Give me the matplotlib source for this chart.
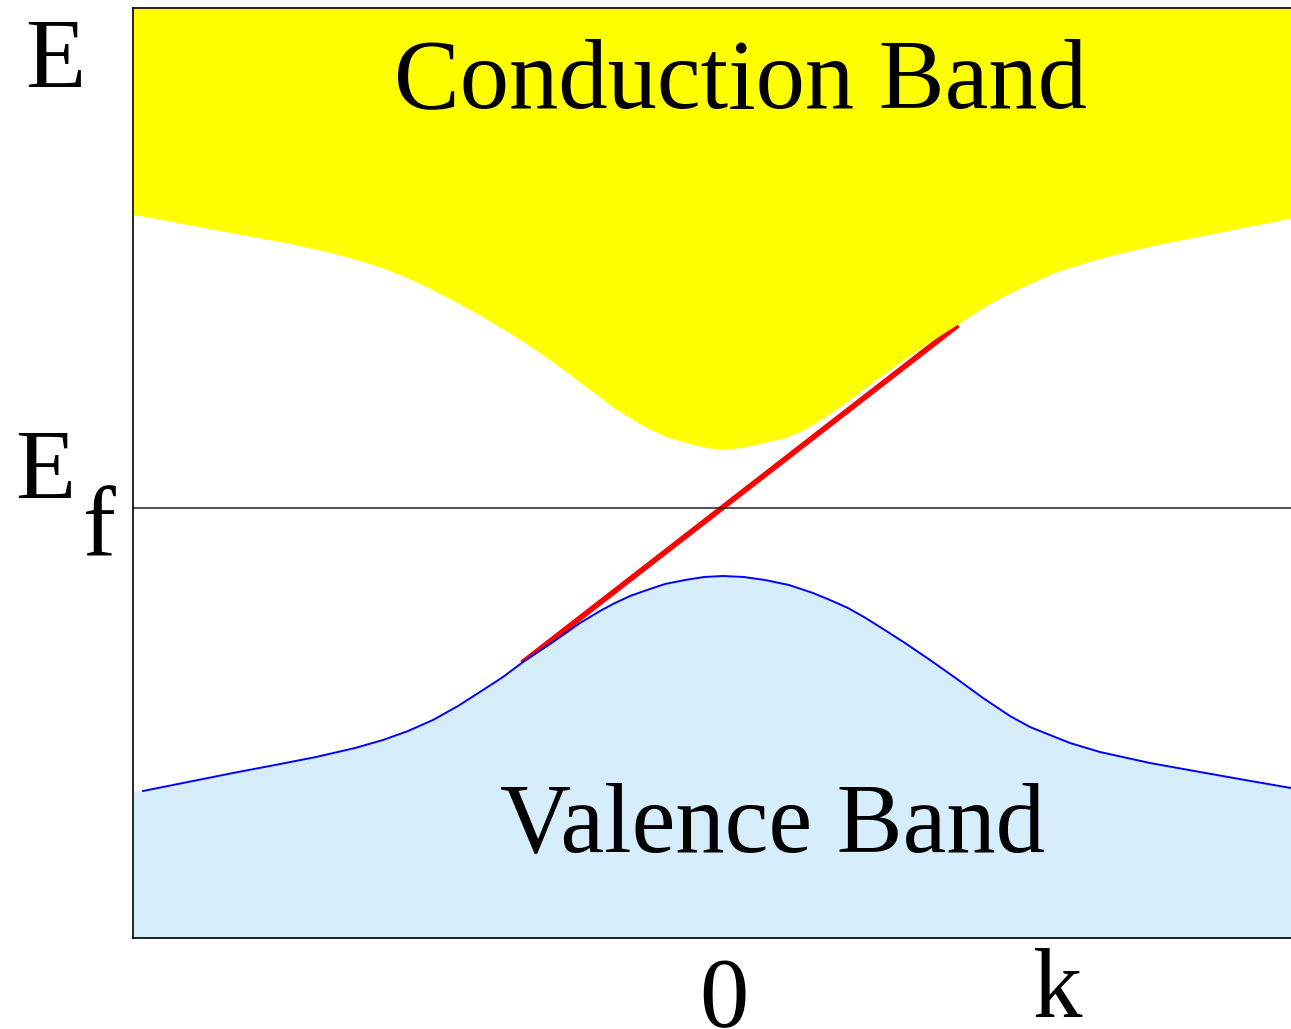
import matplotlib
matplotlib.use("Agg")
import matplotlib.pyplot as plt

# band edges, k in arbitrary units (k=0 at the crossing), energy relative to E_f
cond_k = [-5.89, -5.79, -4.89, -4.39, -3.89, -3.64, -3.39, -3.14, -2.89, -2.64,
          -2.39, -2.14, -1.89, -1.69, -1.49, -1.29, -1.09, -0.95, -0.82, -0.68,
          -0.55, -0.41, -0.27, -0.13, 0.00, 0.15, 0.31, 0.48, 0.65, 0.81,
          0.98, 1.14, 1.31, 1.56, 1.81, 2.06, 2.31, 2.48, 2.65, 2.98,
          3.31, 3.65, 3.98, 4.38, 4.78, 5.23, 5.69]
cond_E = [2.93, 2.92, 2.75, 2.66, 2.55, 2.48, 2.40, 2.30, 2.18, 2.05,
          1.91, 1.76, 1.60, 1.46, 1.31, 1.16, 1.01, 0.92, 0.84, 0.77,
          0.71, 0.67, 0.63, 0.60, 0.59, 0.60, 0.63, 0.67, 0.71, 0.78,
          0.88, 0.99, 1.11, 1.30, 1.48, 1.65, 1.81, 1.92, 2.03, 2.20,
          2.35, 2.46, 2.55, 2.64, 2.72, 2.81, 2.90]

val_k = [-5.79, -5.34, -4.89, -4.47, -4.06, -3.67, -3.39, -3.14, -2.89, -2.64,
         -2.39, -2.19, -1.99, -1.69, -1.42, -1.22, -1.09, -0.92, -0.75, -0.57,
         -0.37, -0.18, 0.01, 0.22, 0.43, 0.67, 0.91, 1.08, 1.26, 1.42,
         1.58, 1.83, 2.08, 2.35, 2.61, 2.88, 3.08, 3.28, 3.48, 3.78,
         4.28, 4.78, 5.23, 5.69]
val_E = [-2.83, -2.74, -2.65, -2.57, -2.49, -2.40, -2.32, -2.23, -2.12, -1.98,
         -1.82, -1.69, -1.54, -1.34, -1.15, -1.03, -0.96, -0.88, -0.82, -0.76,
         -0.72, -0.69, -0.68, -0.69, -0.72, -0.77, -0.85, -0.92, -1.00, -1.09,
         -1.19, -1.35, -1.52, -1.71, -1.90, -2.08, -2.19, -2.27, -2.35, -2.44,
         -2.55, -2.64, -2.72, -2.80]

# linear (Dirac-like) surface state
surf_k = [-2.00, 2.36]
surf_E = [-1.55, 1.83]

E_fermi = 0.0
k_min, k_max = -5.89, 5.69
E_min, E_max = -4.30, 5.00

W, H = 1291, 1029
fig = plt.figure(figsize=(W / 100, H / 100), dpi=100)
ax = fig.add_axes([133 / W, (H - 938) / H, 1 - 133 / W, (938 - 8) / H])

ax.plot(surf_k, surf_E, color="#ff0000", lw=4.0, solid_capstyle="butt", zorder=1)
ax.fill_between(cond_k, cond_E, E_max, color="#ffff00", lw=0, zorder=2)
ax.fill_between([k_min] + val_k, [val_E[0]] + val_E, E_min,
                color="#d6edfc", lw=0, zorder=2)
ax.plot(val_k, val_E, color="#0000ff", lw=1.4, solid_joinstyle="round", zorder=3)
ax.axhline(E_fermi, color="#222222", lw=1.1, zorder=4)

ax.set_xlim(k_min, k_max)
ax.set_ylim(E_min, E_max)
ax.set_xticks([])
ax.set_yticks([])
ax.spines["right"].set_visible(False)
for s in ("left", "top", "bottom"):
    ax.spines[s].set_linewidth(1.2)
    ax.spines[s].set_zorder(5)

font = dict(family="Liberation Serif", fontsize=71, color="black")


def put(x, y, s, ha="left"):
    fig.text(x / W, (H - y) / H, s, ha=ha, va="baseline", **font)


put(25, 87, "E")
put(15, 498, "E")
put(83, 557, "f")
put(724, 1026, "0", ha="center")
put(1057, 1017, "k", ha="center")
put(740, 107, "Conduction Band", ha="center")
put(772, 852, "Valence Band", ha="center")

fig.savefig("out.png", dpi=100)
